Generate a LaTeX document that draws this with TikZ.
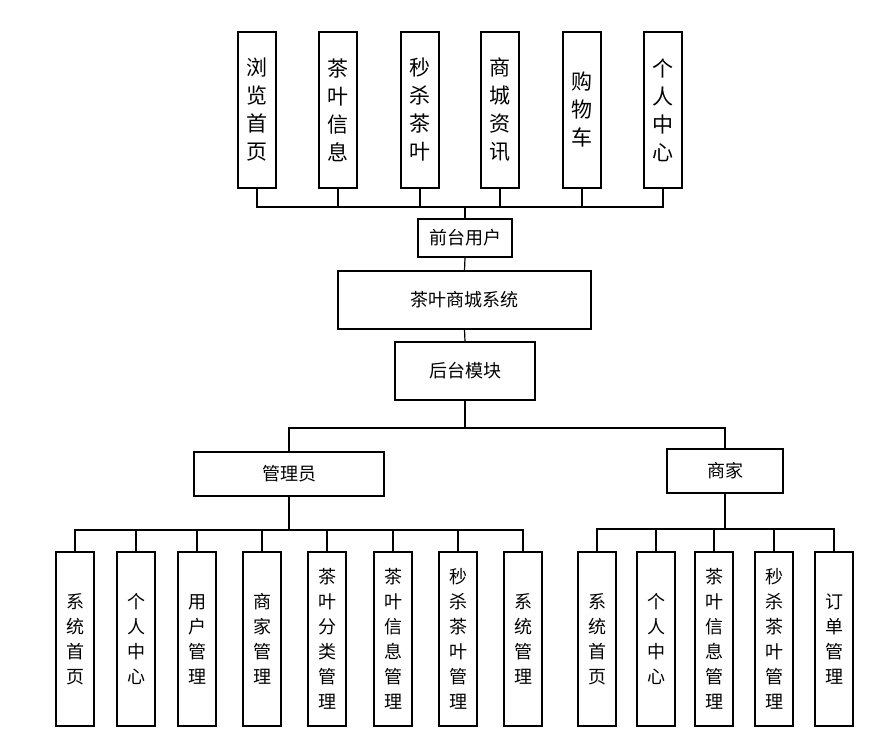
\documentclass[tikz,border=0pt]{standalone}
\usepackage{fontspec}
\setmainfont{Noto Sans CJK SC}
\usetikzlibrary{positioning}

\begin{document}
\begin{tikzpicture}[x=1pt,y=-1pt,line width=1.2pt,
  every node/.style={draw,align=center,inner sep=0pt},
  topbox/.style={minimum width=38pt,minimum height=156pt,font=\fontsize{21}{28}\selectfont},
  leafbox/.style={minimum width=38pt,minimum height=174pt,font=\fontsize{18}{25}\selectfont},
  midbox/.style={font=\fontsize{18}{22}\selectfont}]
  \useasboundingbox (0,0) rectangle (877,747);
  % front end
  \foreach \x/\t [count=\i] in {257/{浏\\览\\首\\页},338/{茶\\叶\\信\\息},420/{秒\\杀\\茶\\叶},
      500/{商\\城\\资\\讯},582/{购\\物\\车},663/{个\\人\\中\\心}}
    \node[topbox] (t\i) at (\x,110) {\t};
  \coordinate (fbus) at (465,207);
  \node[midbox,minimum width=94pt,minimum height=38pt] (front) at (465,238) {前台用户};
  \node[midbox,minimum width=253pt,minimum height=58pt] (sys) at (464.5,300) {茶叶商城系统};
  \node[midbox,minimum width=140pt,minimum height=58pt] (back) at (465,371) {后台模块};
  \foreach \i in {1,...,6}
    \draw (t\i.south) |- (fbus);
  \draw (fbus) -- (front.north);
  \draw (front.south) -- (sys.north);
  \draw (sys.south) -- (back.north);
  % back end
  \coordinate (bbus) at (465,428);
  \node[midbox,minimum width=190pt,minimum height=44pt] (admin) at (289,474) {管理员};
  \node[midbox,minimum width=116pt,minimum height=44pt] (merch) at (725,471) {商家};
  \draw (back.south) -- (bbus);
  \draw (admin.north) |- (bbus);
  \draw (merch.north) |- (bbus);
  % admin modules
  \coordinate (abus) at (289,530);
  \foreach \x/\t [count=\i] in {75/{系\\统\\首\\页},136/{个\\人\\中\\心},197/{用\\户\\管\\理},
      262/{商\\家\\管\\理},327/{茶\\叶\\分\\类\\管\\理},393/{茶\\叶\\信\\息\\管\\理},
      458/{秒\\杀\\茶\\叶\\管\\理},523/{系\\统\\管\\理}}{
    \node[leafbox] (a\i) at (\x,639) {\t};
    \draw (a\i.north) |- (abus);
  }
  \draw (admin.south) -- (abus);
  % merchant modules
  \coordinate (mbus) at (725,529);
  \foreach \x/\t [count=\i] in {597/{系\\统\\首\\页},656/{个\\人\\中\\心},714/{茶\\叶\\信\\息\\管\\理},
      774/{秒\\杀\\茶\\叶\\管\\理},834/{订\\单\\管\\理}}{
    \node[leafbox] (m\i) at (\x,639) {\t};
    \draw (m\i.north) |- (mbus);
  }
  \draw (merch.south) -- (mbus);
\end{tikzpicture}
\end{document}
